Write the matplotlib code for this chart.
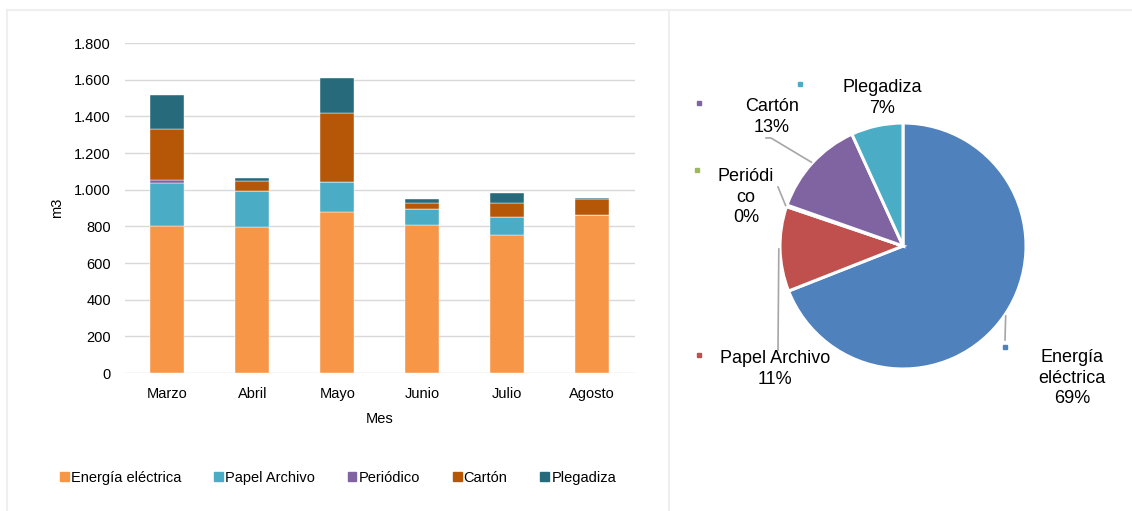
import numpy as np
import matplotlib
matplotlib.use("Agg")
import matplotlib.pyplot as plt
from matplotlib.ticker import FuncFormatter
from matplotlib.patches import Patch

plt.rcParams['font.family'] = ['Liberation Sans', 'DejaVu Sans']

# consumo mensual (m3)
meses = ['Marzo', 'Abril', 'Mayo', 'Junio', 'Julio', 'Agosto']
energia = [800, 795, 876, 807, 751, 860]
papel = [236, 196, 168, 88, 102, 0]
periodico = [15, 0, 0, 0, 0, 0]
carton = [280, 54, 374, 34, 72, 91]
plegadiza = [185, 20, 193, 22, 59, 4]

series = ['Energía eléctrica', 'Papel Archivo', 'Periódico', 'Cartón', 'Plegadiza']
bar_colors = ['#F79646', '#4BACC6', '#8064A2', '#B65708', '#276A7C']
pie_colors = ['#4F81BD', '#C0504D', '#9BBB59', '#8064A2', '#4BACC6']

W, H = 1132, 511
fig = plt.figure(figsize=(W / 100, H / 100), dpi=100)


def px_axes(left, top, right, bottom):
    return fig.add_axes([left / W, 1 - bottom / H, (right - left) / W, (bottom - top) / H])


# marco del informe
frame = fig.add_axes([0, 0, 1, 1])
frame.set_xlim(0, W)
frame.set_ylim(H, 0)
frame.axis('off')
frame.plot([7, W], [10, 10], color='#EFEFEF', lw=1.5)
frame.plot([7, 7], [10, H], color='#EFEFEF', lw=1.5)
frame.plot([669, 669], [10, H], color='#EFEFEF', lw=1.5)

# ---- barras apiladas ----
ax = px_axes(125, 43, 634.5, 373)
data = [energia, papel, periodico, carton, plegadiza]
x = np.arange(len(meses))
bottom = np.zeros(len(meses))
for vals, name, col in zip(data, series, bar_colors):
    ax.bar(x, vals, 0.4, bottom=bottom, color=col, label=name, zorder=3,
           edgecolor='white', linewidth=0.3)
    bottom += np.array(vals)

ax.set_xlim(-0.5, len(meses) - 0.5)
ax.set_ylim(0, 1800)
ax.set_yticks(np.arange(0, 1801, 200))
ax.yaxis.set_major_formatter(FuncFormatter(lambda v, p: f'{int(v):,}'.replace(',', '.')))
ax.set_xticks(x)
ax.set_xticklabels(meses)
ax.grid(axis='y', color='#D9D9D9', lw=1, zorder=0)
for s in ax.spines.values():
    s.set_visible(False)
ax.tick_params(length=0, labelsize=10.5, labelcolor='black')
ax.tick_params(axis='y', pad=10)
ax.tick_params(axis='x', pad=10)
ax.set_xlabel('Mes', fontsize=10.5, labelpad=8)
ax.set_ylabel('m3', fontsize=10.5, labelpad=7)

handles = [Patch(color=c) for c in bar_colors]
fig.legend(handles, series, loc='center', bbox_to_anchor=(338 / W, 1 - 478 / H),
           ncol=5, frameon=False, fontsize=10.5, handlelength=0.6, handleheight=0.6,
           handletextpad=0.15, columnspacing=2.25)

# ---- pastel de totales ----
totales = [sum(v) for v in data]
cx, cy, r = 903, 246, 123
pax = px_axes(669, 10, W, H)
wedges, _ = pax.pie(totales, colors=pie_colors, startangle=90, counterclock=False,
                    radius=1, wedgeprops=dict(edgecolor='white', linewidth=2.2))
pax.set_aspect('auto')
pax.set_xlim((669 - cx) / r, (W - cx) / r)
pax.set_ylim((cy - H) / r, (cy - 10) / r)


def to_data(px, py):
    return (px - cx) / r, (cy - py) / r


pct = [100 * t / sum(totales) for t in totales]
pie_names = ['Energía\neléctrica', 'Papel Archivo', 'Periódi\nco', 'Cartón', 'Plegadiza']
label_pos = [(1072, 378), (775, 369), (746, 197), (772, 117), (882, 98)]
marker_pos = [(1005, 347), (699, 355), (697, 170), (699, 103), (800, 84)]
# puntos de quiebre de las líneas guía (None = sin línea)
guides = [[(1005, 340)], [(778, 350)], [(778, 187)], [(771, 138), (766, 138)], None]

for i, w in enumerate(wedges):
    lx, ly = to_data(*label_pos[i])
    pax.text(lx, ly, f'{pie_names[i]}\n{pct[i]:.0f}%', ha='center', va='center',
             fontsize=13, linespacing=1.25)
    mx, my = to_data(*marker_pos[i])
    pax.plot(mx, my, 's', color=pie_colors[i], ms=3.5)
    if guides[i] is not None:
        ang = np.deg2rad((w.theta1 + w.theta2) / 2)
        pts = [(1.01 * np.cos(ang), 1.01 * np.sin(ang))] + [to_data(*p) for p in guides[i]]
        pax.plot([p[0] for p in pts], [p[1] for p in pts], color='#A6A6A6', lw=1.2)

fig.savefig('out.png', dpi=100)
